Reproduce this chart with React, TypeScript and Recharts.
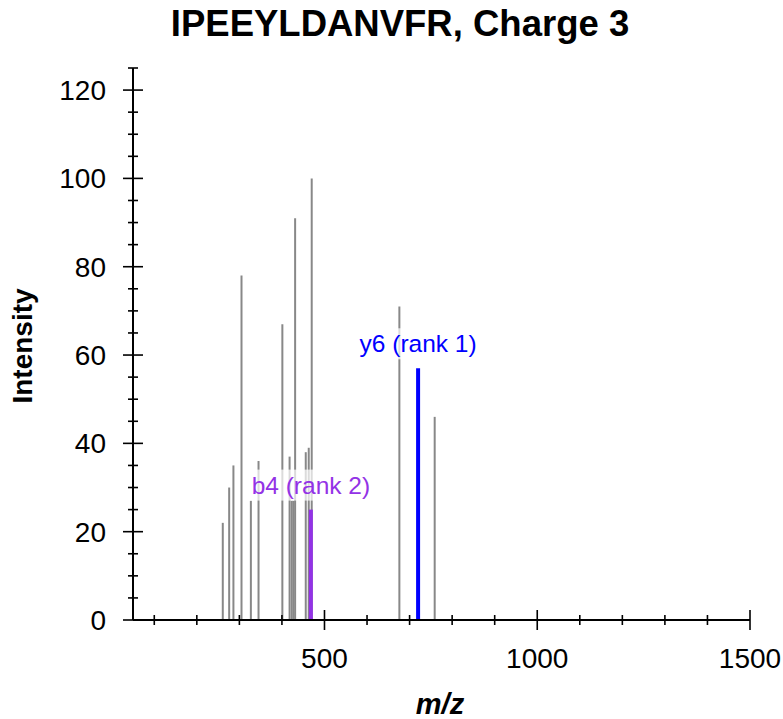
import React from "react"
import { ComposedChart, XAxis, YAxis, Scatter, ReferenceLine } from "recharts"

// unmatched peaks (gray)
const peakMz = [261, 276, 286, 305, 327, 345, 401, 418, 423, 427, 431, 456, 463, 470, 676, 759]
const peakIntensity = [22, 30, 35, 78, 27, 36, 67, 37, 27, 27, 91, 38, 39, 100, 71, 46]

// matched fragment ions
const ionNames = ["b4 (rank 2)", "y6 (rank 1)"]
const ionMz = [468, 720]
const ionIntensity = [25, 57]
const ionColors = ["#9332e6", "#0000ff"]

const xTicks = [100, 200, 300, 400, 500, 600, 700, 800, 900, 1000, 1100, 1200, 1300, 1400, 1500]
const xLabelTicks = [500, 1000, 1500]
const yTicks = [0, 5, 10, 15, 20, 25, 30, 35, 40, 45, 50, 55, 60, 65, 70, 75, 80, 85, 90, 95, 100, 105, 110, 115, 120, 125]

const FONT = "'Liberation Sans', Arial, sans-serif"

const peaks = peakMz.map((mz, i) => ({ mz, intensity: peakIntensity[i] }))
const ions = ionMz.map((mz, i) => ({ mz, intensity: ionIntensity[i], name: ionNames[i], color: ionColors[i] }))

function XTick({ x, y, payload }: any) {
  const major = xLabelTicks.includes(payload.value)
  const len = major ? 10 : 5
  return (
    <g>
      <line x1={x} x2={x} y1={y - len} y2={y + len} stroke="#000" strokeWidth={1.6} />
      {major && (
        <text x={x} y={y + 48} textAnchor="middle" fontSize={28} fontFamily={FONT} fill="#000">
          {payload.value}
        </text>
      )}
    </g>
  )
}

function YTick({ x, y, payload }: any) {
  const major = payload.value % 20 === 0
  const len = major ? 10 : 5
  return (
    <g>
      <line x1={x - len} x2={x + len} y1={y} y2={y} stroke="#000" strokeWidth={1.6} />
      {major && (
        <text x={x - 27} y={y + 10} textAnchor="end" fontSize={28} fontFamily={FONT} fill="#000">
          {payload.value}
        </text>
      )}
    </g>
  )
}

function IonLabel({ viewBox, value, color }: any) {
  const cx = viewBox.x + viewBox.width / 2
  const top = viewBox.y
  const w = value.length * 11 + 4
  return (
    <g>
      <rect x={cx - w / 2} y={top - 40} width={w} height={31} fill="#fff" fillOpacity={0.7} />
      <text x={cx} y={top - 16} textAnchor="middle" fontSize={24.5} fontFamily={FONT} fill={color}>
        {value}
      </text>
    </g>
  )
}

export default function App() {
  return (
    <div style={{ position: "absolute", left: 0, top: 0 }}>
      <ComposedChart width={783} height={719} data={peaks} margin={{ top: 68, right: 33, bottom: 0, left: 0 }}>
        <XAxis
          dataKey="mz"
          type="number"
          domain={[50, 1500]}
          ticks={xTicks}
          interval={0}
          tickSize={0}
          tickMargin={0}
          tickLine={false}
          tick={<XTick />}
          height={99}
          axisLine={{ stroke: "#000", strokeWidth: 2 }}
          allowDataOverflow
        />
        <YAxis
          dataKey="intensity"
          type="number"
          domain={[0, 125]}
          ticks={yTicks}
          interval={0}
          tickSize={0}
          tickMargin={0}
          tickLine={false}
          tick={<YTick />}
          width={133}
          axisLine={{ stroke: "#000", strokeWidth: 2 }}
          allowDataOverflow
        />
        <Scatter data={peaks} dataKey="intensity" shape={() => null} isAnimationActive={false} />
        {peaks.map((p) => (
          <ReferenceLine
            key={"p" + p.mz}
            segment={[
              { x: p.mz, y: 0 },
              { x: p.mz, y: p.intensity },
            ]}
            stroke="#888"
            strokeWidth={2}
          />
        ))}
        {ions.map((p) => (
          <ReferenceLine
            key={"i" + p.mz}
            segment={[
              { x: p.mz, y: 0 },
              { x: p.mz, y: p.intensity },
            ]}
            stroke={p.color}
            strokeWidth={4}
            label={<IonLabel value={p.name} color={p.color} />}
          />
        ))}
        <text x={400} y={36} textAnchor="middle" fontSize={36.5} fontWeight="bold" fontFamily={FONT} fill="#000">
          IPEEYLDANVFR, Charge 3
        </text>
        <text
          x={32}
          y={346}
          transform="rotate(-90 32 346)"
          textAnchor="middle"
          fontSize={28}
          fontWeight="bold"
          fontFamily={FONT}
          fill="#000"
        >
          Intensity
        </text>
        <text x={440} y={714} textAnchor="middle" fontSize={29} fontWeight="bold" fontStyle="italic" fontFamily={FONT} fill="#000">
          m/z
        </text>
      </ComposedChart>
    </div>
  )
}
